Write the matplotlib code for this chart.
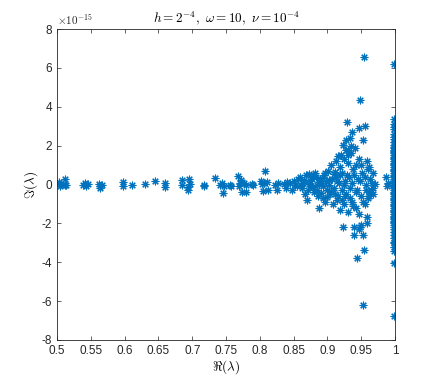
#! /usr/bin/env python

'''
Eigenvalue scatter, real vs imaginary part.
'''

import numpy as np
import matplotlib
matplotlib.use('Agg')
import matplotlib.pyplot as plt

# real parts of the scattered eigenvalues
re_vals = [
    0.503, 0.504, 0.506, 0.511, 0.512, 0.513,
    0.539, 0.541, 0.543, 0.545,
    0.562, 0.564, 0.566, 0.563,
    0.598, 0.598, 0.611, 0.630, 0.645, 0.660, 0.660,
    0.685, 0.685, 0.695, 0.694, 0.697, 0.693,
    0.717, 0.717, 0.734, 0.744, 0.747, 0.745, 0.741,
    0.756, 0.758, 0.768, 0.770, 0.772, 0.773, 0.769,
    0.779, 0.779, 0.776, 0.788, 0.790,
    0.801, 0.803, 0.804, 0.806, 0.808, 0.811, 0.812,
    0.822, 0.825, 0.827, 0.835, 0.838, 0.840,
    0.845, 0.847, 0.850, 0.852, 0.855, 0.857,
    0.860, 0.862, 0.864, 0.867, 0.870, 0.868,
    0.872, 0.874, 0.876, 0.878, 0.880, 0.882, 0.884, 0.886,
    0.888, 0.889, 0.891, 0.893, 0.895, 0.897, 0.898, 0.899,
    0.901, 0.902, 0.904, 0.905, 0.907, 0.908, 0.909, 0.910,
    0.912, 0.913, 0.914, 0.915, 0.916, 0.917, 0.918, 0.919,
    0.920, 0.921, 0.922, 0.923, 0.923, 0.924, 0.925, 0.926,
    0.927, 0.928, 0.929, 0.930, 0.931, 0.932, 0.933, 0.934,
    0.935, 0.936, 0.937, 0.938, 0.939, 0.940, 0.941, 0.942,
    0.943, 0.944, 0.945, 0.946, 0.947, 0.948, 0.949, 0.950,
    0.951, 0.952, 0.952, 0.953, 0.954, 0.954, 0.955, 0.956,
    0.957, 0.958, 0.958, 0.959, 0.960, 0.961, 0.962, 0.963,
    0.965, 0.967, 0.970, 0.968, 0.987, 0.988, 0.989,
    0.861, 0.866, 0.871, 0.873, 0.877, 0.879, 0.883, 0.885,
    0.887, 0.890, 0.892, 0.894, 0.896, 0.900, 0.903, 0.906,
    0.911, 0.911, 0.914, 0.918, 0.921, 0.924, 0.926, 0.929,
    0.931, 0.933, 0.936, 0.938, 0.940, 0.942, 0.944, 0.946,
    0.948, 0.950, 0.953, 0.955, 0.957, 0.960, 0.962, 0.964,
    0.966, 0.968, 0.927, 0.935, 0.931, 0.946, 0.948,
]
# imaginary parts, in units of 1e-15
im_vals = [
    0.15, -0.1, 0.05, 0.3, 0.0, -0.05,
    0.0, 0.1, -0.1, 0.05,
    0.05, -0.1, -0.05, -0.2,
    0.15, -0.1, -0.05, 0.05, 0.2, 0.1, -0.15,
    0.25, -0.05, 0.3, -0.15, 0.05, -0.3,
    0.0, -0.1, 0.35, 0.1, -0.1, -0.45, 0.0,
    0.0, -0.1, 0.45, 0.1, 0.25, -0.4, -0.1,
    0.0, -0.4, 0.1, 0.05, -0.05,
    0.2, 0.05, -0.35, 0.1, 0.7, 0.15, -0.3,
    0.0, -0.3, 0.1, 0.05, -0.2, 0.15,
    0.1, -0.3, 0.2, 0.0, -0.1, 0.3,
    0.4, -0.2, 0.1, -0.5, -0.8, 0.5,
    0.55, 0.2, -0.1, 0.45, -0.4, 0.6, 0.0, -0.6,
    -1.2, 0.3, 0.1, -0.7, 0.5, -0.9, 0.2, -0.3,
    0.7, 0.0, -0.5, 1.0, 0.3, -1.0, 0.55, -0.2,
    1.2, 0.4, -0.8, 1.45, -0.6, 0.1, -1.3, 0.9,
    1.5, -0.3, 0.6, 2.05, -2.2, 1.3, -1.0, 0.2,
    1.8, -0.5, 3.2, 1.1, -1.4, 0.4, 2.4, -0.2,
    1.6, -0.9, 2.7, 0.8, -2.2, -2.6, 1.9, -0.4,
    -1.2, -3.76, 0.3, 1.3, 2.9, 4.33, -0.6, -2.1,
    0.6, 2.27, -6.2, -2.6, -3.35, 6.55, 3.0, -1.0,
    0.0, 1.2, -1.65, -2.0, 0.8, -0.4, -0.6, 0.3,
    -0.3, -0.5, 0.05, 0.6, 0.4, -0.1, 0.1,
    0.0, 0.25, -0.3, 0.05, 0.3, -0.15, 0.4, -0.3,
    0.15, -0.45, 0.35, -0.1, 0.6, -0.65, 0.25, -0.35,
    0.65, -0.5, 0.2, 0.5, -0.8, 0.0, -0.6, 0.5,
    1.5, -0.7, 0.1, -1.1, 0.5, 1.0, -0.3, -1.5,
    0.2, 1.0, -0.9, 0.4, -0.3, -0.7, 0.9, -0.4,
    0.1, -0.2, 2.3, 2.0, 1.8, -2.3, -2.2,
]
# eigenvalues stacked on Re = 1
col_re = 0.999
col_im = [
    6.2, -6.75, -4.05, 3.35, 3.1, 2.85, 2.6, 2.35, 2.2, 2.05,
    1.9, 1.8, 1.7, 1.6, 1.5, 1.4, 1.3, 1.2, 1.1, 1.0,
    0.9, 0.8, 0.7, 0.6, 0.5, 0.4, 0.3, 0.2, 0.1, 0.0,
    -0.1, -0.2, -0.3, -0.4, -0.5, -0.6, -0.7, -0.8, -0.9, -1.0,
    -1.1, -1.2, -1.3, -1.4, -1.5, -1.6, -1.7, -1.8, -1.9, -2.0,
    -2.1, -2.3, -2.6, -2.75, -2.95, -3.2, -3.4,
    2.95, 2.45, 1.95, 1.65, 1.35, 1.05, 0.75, 0.45, 0.15,
    -0.15, -0.45, -0.75, -1.05, -1.35, -1.65, -1.95, -2.2, -2.45, -3.0,
]

x_ticks = [0.5, 0.55, 0.6, 0.65, 0.7, 0.75, 0.8, 0.85, 0.9, 0.95, 1.0]
x_labels = ['0.5', '0.55', '0.6', '0.65', '0.7', '0.75', '0.8', '0.85',
            '0.9', '0.95', '1']
y_ticks = [-8, -6, -4, -2, 0, 2, 4, 6, 8]


def plot_eigs():
    '''
    Draw the eigenvalue scatter in a matlab-like style.
    '''
    plt.rcParams['font.family'] = ['Liberation Sans', 'DejaVu Sans']
    plt.rcParams['mathtext.fontset'] = 'cm'
    fig = plt.figure(figsize=(4.36, 3.82), dpi=100)
    ax = fig.add_axes([0.131, 0.110, 0.775, 0.814])

    re = np.array(re_vals + [col_re] * len(col_im))
    im = np.array(im_vals + col_im) * 1e-15
    ax.plot(re, im, linestyle='none', marker=(8, 2, 0), markersize=5.5,
            markeredgewidth=0.8, color='#0072BD')

    ax.set_xlim(0.5, 1.0)
    ax.set_ylim(-8e-15, 8e-15)
    ax.set_xticks(x_ticks)
    ax.set_xticklabels(x_labels)
    ax.set_yticks([v * 1e-15 for v in y_ticks])
    ax.set_yticklabels([str(v) for v in y_ticks])
    ax.text(0.0, 1.005, r'$\times10^{-15}$', transform=ax.transAxes,
            fontsize=8, color='#262626', ha='left', va='bottom',
            family='DejaVu Sans')

    ax.tick_params(direction='in', top=True, right=True, length=3,
                   width=0.5, colors='#262626', labelsize=8.5)
    for sp in ax.spines.values():
        sp.set_linewidth(0.6)
        sp.set_color('#262626')

    ax.set_xlabel(r'$\Re(\lambda)$', fontsize=9.5, labelpad=1)
    ax.set_ylabel(r'$\Im(\lambda)$', fontsize=9.5, labelpad=1)
    ax.set_title(r'$h=2^{-4},\ \omega=10,\ \nu=10^{-4}$', fontsize=9.5,
                 pad=5)
    fig.savefig('out.png', dpi=100)


if __name__ == '__main__':
    plot_eigs()
